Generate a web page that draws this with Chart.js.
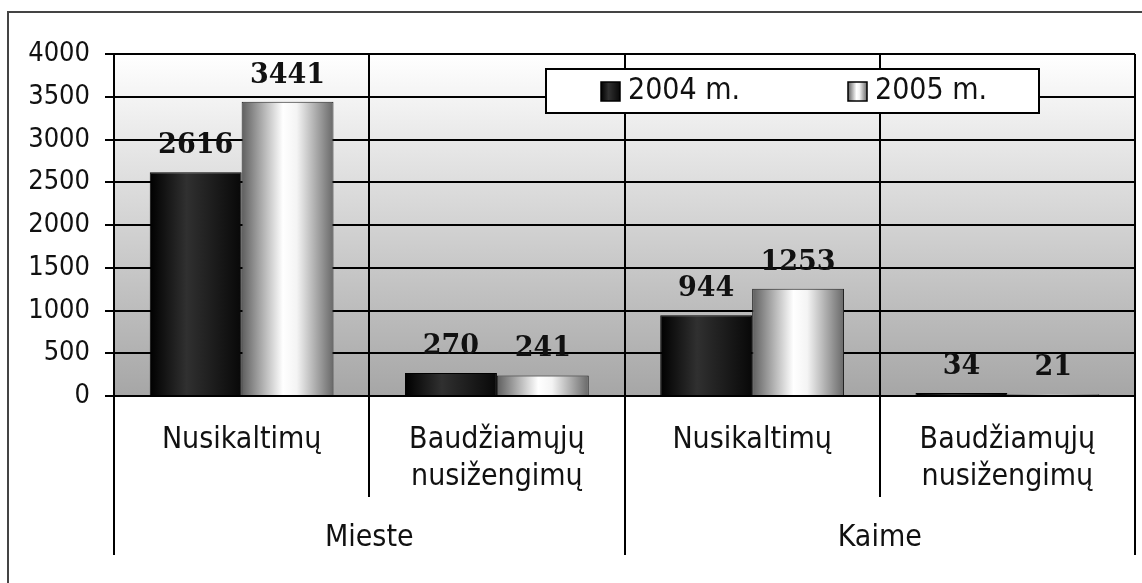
<!DOCTYPE html>
<html>
<head>
<meta charset="utf-8">
<script src="https://cdn.jsdelivr.net/npm/chart.js@4.4.0/dist/chart.umd.min.js"></script>
<style>
  html, body { margin: 0; padding: 0; background: #fff; }
  #wrap { width: 1142px; height: 583px; }
</style>
</head>
<body>
<div id="wrap"><canvas id="chart" width="1142" height="583"></canvas></div>
<script>
// ─── data ───────────────────────────────────────────────────────────
const categories = [["Nusikaltimų"], ["Baudžiamųjų", "nusižengimų"], ["Nusikaltimų"], ["Baudžiamųjų", "nusižengimų"]];
const groups = ["Mieste", "Kaime"];
const groupSize = 2;
const seriesNames = ["2004 m.", "2005 m."];
const values2004 = [2616, 270, 944, 34];
const values2005 = [3441, 241, 1253, 21];
const yMin = 0, yMax = 4000, yStep = 500;

const SANS = '"DejaVu Sans Condensed", "DejaVu Sans", sans-serif';
const SERIF = '"DejaVu Serif", serif';
const catPct = 0.72;

// horizontal "cylinder" gradients for the bars
function darkStops(g) {
    g.addColorStop(0, "#000");
    g.addColorStop(0.4, "#303030");
    g.addColorStop(1, "#080808");
    return g;
}
function lightStops(g) {
    g.addColorStop(0, "#5e5e5e");
    g.addColorStop(0.45, "#ffffff");
    g.addColorStop(0.6, "#f4f4f4");
    g.addColorStop(1, "#686868");
    return g;
}

function barFill(stops) {
    return (ctx) => {
        const chart = ctx.chart;
        const x = chart.scales.x;
        if (!chart.chartArea || !x || ctx.dataIndex === undefined) return "#333";
        const catW = (x.right - x.left) / categories.length;
        const barW = catW * catPct / 2;
        const cx = x.getPixelForValue(ctx.dataIndex);
        const left = ctx.datasetIndex === 0 ? cx - barW : cx;
        return stops(chart.ctx.createLinearGradient(left, 0, left + barW, 0));
    };
}

// ─── plugins ────────────────────────────────────────────────────────
const plotBackground = {
    id: "plotBackground",
    beforeDraw(chart) {
        const { ctx, chartArea: a } = chart;
        const g = ctx.createLinearGradient(0, a.top, 0, a.bottom);
        g.addColorStop(0, "#ffffff");
        g.addColorStop(1, "#a6a6a6");
        ctx.save();
        ctx.fillStyle = g;
        ctx.fillRect(a.left, a.top, a.right - a.left, a.bottom - a.top);
        ctx.restore();
    },
};

const valueLabels = {
    id: "valueLabels",
    afterDatasetsDraw(chart) {
        const { ctx } = chart;
        ctx.save();
        ctx.font = "bold 27px " + SERIF;
        ctx.fillStyle = "#111";
        ctx.textAlign = "center";
        ctx.textBaseline = "alphabetic";
        chart.data.datasets.forEach((ds, di) => {
            chart.getDatasetMeta(di).data.forEach((bar, i) => {
                ctx.fillText(String(ds.data[i]), bar.x, bar.y - 19);
            });
        });
        ctx.restore();
    },
};

const axisLabels = {
    id: "axisLabels",
    afterDraw(chart) {
        const { ctx } = chart;
        const x = chart.scales.x;
        const base = chart.chartArea.bottom;
        const catW = (x.right - x.left) / categories.length;
        ctx.save();
        ctx.fillStyle = "#111";
        ctx.textAlign = "center";
        ctx.textBaseline = "middle";
        ctx.font = "30px " + SANS;
        categories.forEach((lines, i) => {
            const cx = x.getPixelForValue(i);
            lines.forEach((t, k) => ctx.fillText(t, cx, base + 44 + k * 37));
        });
        // group separators continue below the category ticks
        ctx.strokeStyle = "#000";
        ctx.lineWidth = 2;
        for (let g = 0; g <= groups.length; g++) {
            const px = Math.round(x.left + g * groupSize * catW);
            ctx.beginPath();
            ctx.moveTo(px, base + 99);
            ctx.lineTo(px, base + 159);
            ctx.stroke();
        }
        groups.forEach((t, g) => {
            const cx = x.left + (g + 0.5) * groupSize * catW;
            ctx.fillText(t, cx, base + 142);
        });
        ctx.restore();
    },
};

const legendBox = {
    id: "legendBox",
    afterDraw(chart) {
        const { ctx } = chart;
        const bx = 546, by = 69, bw = 493, bh = 44;
        ctx.save();
        ctx.fillStyle = "#fff";
        ctx.fillRect(bx, by, bw, bh);
        ctx.strokeStyle = "#000";
        ctx.lineWidth = 2;
        ctx.strokeRect(bx, by, bw, bh);
        const items = [
            { x: 601, stops: darkStops },
            { x: 848, stops: lightStops },
        ];
        ctx.font = "30px " + SANS;
        ctx.textAlign = "left";
        ctx.textBaseline = "middle";
        items.forEach((it, i) => {
            ctx.fillStyle = it.stops(ctx.createLinearGradient(it.x, 0, it.x + 19, 0));
            ctx.fillRect(it.x, 82, 19, 19);
            ctx.lineWidth = 1.5;
            ctx.strokeStyle = "#000";
            ctx.strokeRect(it.x, 82, 19, 19);
            ctx.fillStyle = "#111";
            ctx.fillText(seriesNames[i], it.x + 27, 91);
        });
        ctx.restore();
    },
};

const frame = {
    id: "frame",
    afterDraw(chart) {
        const { ctx } = chart;
        ctx.save();
        ctx.strokeStyle = "#444";
        ctx.lineWidth = 2;
        ctx.beginPath();
        ctx.moveTo(8, 700);
        ctx.lineTo(8, 12);
        ctx.lineTo(1200, 12);
        ctx.stroke();
        ctx.restore();
    },
};

// ─── chart ──────────────────────────────────────────────────────────
new Chart(document.getElementById("chart"), {
    type: "bar",
    data: {
        labels: categories.map(c => c.join(" ")),
        datasets: [
            { label: seriesNames[0], data: values2004, backgroundColor: barFill(darkStops), borderColor: "#000", borderWidth: 1 },
            { label: seriesNames[1], data: values2005, backgroundColor: barFill(lightStops), borderColor: "#222", borderWidth: 1 },
        ],
    },
    options: {
        responsive: false,
        animation: false,
        layout: { padding: { top: 54, right: 7, left: 0, bottom: 0 } },
        datasets: { bar: { barPercentage: 1, categoryPercentage: catPct } },
        plugins: { legend: { display: false }, tooltip: { enabled: false } },
        scales: {
            x: {
                grid: {
                    offset: true,
                    color: (c) => (c.index === categories.length ? "#999" : "#000"),
                    tickColor: "#000",
                    lineWidth: 2,
                    tickLength: 101,
                },
                border: { color: "#000", width: 2 },
                ticks: { display: false },
                afterFit: (s) => { s.height = 187; },
            },
            y: {
                min: yMin,
                max: yMax,
                grid: { color: "#000", lineWidth: 2, tickLength: 9 },
                border: { color: "#000", width: 2 },
                ticks: {
                    stepSize: yStep,
                    padding: 15,
                    color: "#111",
                    font: { family: SANS, size: 27 },
                    callback: (v) => String(v),
                },
                afterFit: (s) => { s.width = 114; },
            },
        },
    },
    plugins: [plotBackground, valueLabels, axisLabels, legendBox, frame],
});
</script>
</body>
</html>
